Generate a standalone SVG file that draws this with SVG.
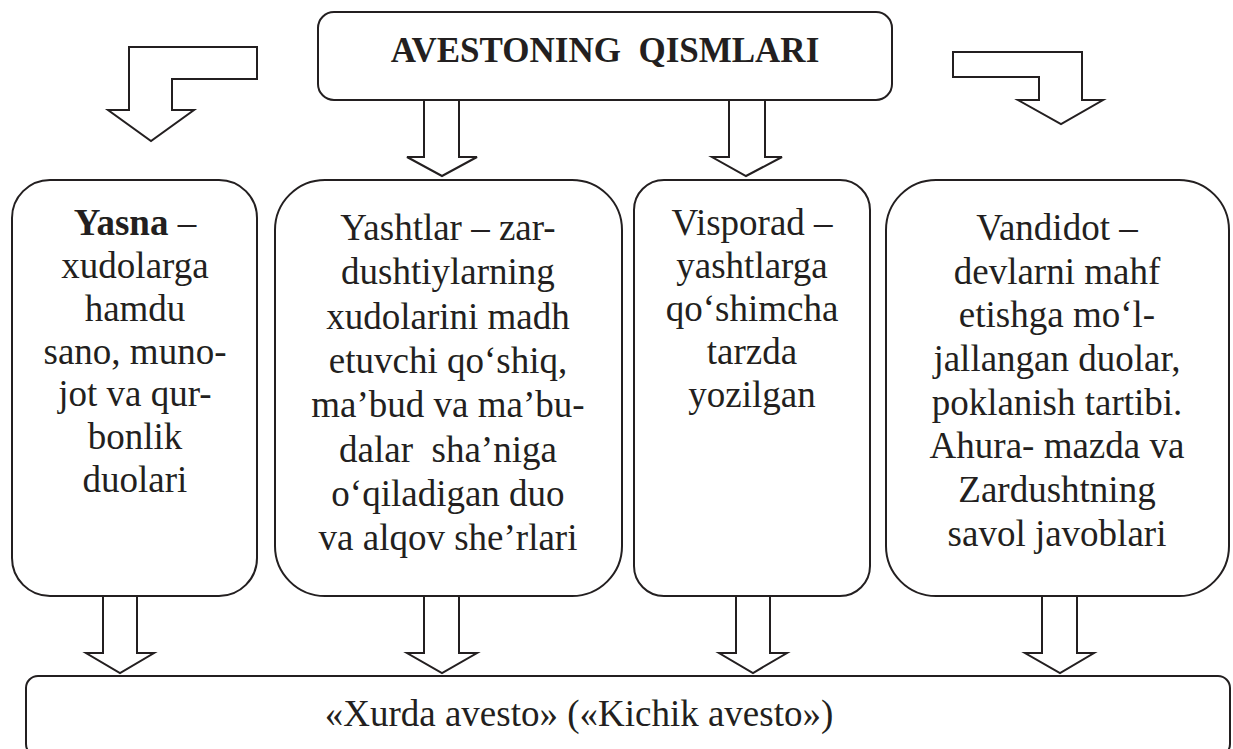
<svg xmlns="http://www.w3.org/2000/svg" width="1233" height="749" viewBox="0 0 1233 749">
<style>
.box{fill:#fff;stroke:#231f20;stroke-width:2}
.arr{fill:#fff;stroke:#231f20;stroke-width:2;stroke-linejoin:miter}
.t{font-family:"Liberation Serif","Times New Roman",serif;font-size:37px;fill:#231f20;text-anchor:middle}
.title{font-family:"Liberation Serif","Times New Roman",serif;font-size:35px;font-weight:bold;fill:#231f20;text-anchor:middle}
</style>
<rect width="1233" height="749" fill="#fff"/>
<g id="connectors">
<path class="arr" d="M257,47 L129,47 L129,110 L108,110 L151,141 L194,110 L172,110 L172,79 L257,79 Z"/>
<path class="arr" d="M424,100 L424,157 L407,157 L442,176 L477,157 L459,157 L459,100"/>
<path class="arr" d="M729,100 L729,157 L712,157 L746,176 L782,157 L765,157 L765,100"/>
<path class="arr" d="M953,52 L1082,52 L1082,100 L1103,100 L1061,124 L1018,100 L1039,100 L1039,77 L953,77 Z"/>
<path class="arr" d="M103,596 L103,653 L86,653 L120,673 L154,653 L137,653 L137,596"/>
<path class="arr" d="M424,596 L424,653 L407,653 L442,673 L477,653 L459,653 L459,596"/>
<path class="arr" d="M736,596 L736,653 L719,653 L753,673 L787,653 L770,653 L770,596"/>
<path class="arr" d="M1042,596 L1042,653 L1025,653 L1060,673 L1094,653 L1077,653 L1077,596"/>
</g>
<g id="title">
<rect class="box" x="318" y="12" width="574" height="88" rx="16"/>
<text class="title" x="605" y="62" xml:space="preserve">AVESTONING  QISMLARI</text>
</g>
<g id="yasna">
<rect class="box" x="12" y="180" width="245" height="416" rx="38"/>
<text class="t" x="135" y="235"><tspan font-weight="bold">Yasna</tspan> –</text>
<text class="t" x="135" y="278">xudolarga</text>
<text class="t" x="135" y="321">hamdu</text>
<text class="t" x="135" y="364">sano, muno-</text>
<text class="t" x="135" y="406">jot va qur-</text>
<text class="t" x="135" y="449">bonlik</text>
<text class="t" x="135" y="492">duolari</text>
</g>
<g id="yashtlar">
<rect class="box" x="275" y="180" width="347" height="416" rx="50"/>
<text class="t" x="448" y="240">Yashtlar – zar-</text>
<text class="t" x="448" y="284">dushtiylarning</text>
<text class="t" x="448" y="329">xudolarini madh</text>
<text class="t" x="448" y="373">etuvchi qo‘shiq,</text>
<text class="t" x="448" y="417">ma’bud va ma’bu-</text>
<text class="t" x="448" y="462" xml:space="preserve">dalar  sha’niga</text>
<text class="t" x="448" y="506">o‘qiladigan duo</text>
<text class="t" x="448" y="550">va alqov she’rlari</text>
</g>
<g id="visporad">
<rect class="box" x="634" y="180" width="236" height="416" rx="30"/>
<text class="t" x="752" y="235">Visporad –</text>
<text class="t" x="752" y="278">yashtlarga</text>
<text class="t" x="752" y="321">qo‘shimcha</text>
<text class="t" x="752" y="364">tarzda</text>
<text class="t" x="752" y="407">yozilgan</text>
</g>
<g id="vandidot">
<rect class="box" x="886" y="180" width="343" height="416" rx="50"/>
<text class="t" x="1057" y="240">Vandidot –</text>
<text class="t" x="1057" y="284">devlarni mahf</text>
<text class="t" x="1057" y="327">etishga mo‘l-</text>
<text class="t" x="1057" y="371">jallangan duolar,</text>
<text class="t" x="1057" y="415">poklanish tartibi.</text>
<text class="t" x="1057" y="458">Ahura- mazda va</text>
<text class="t" x="1057" y="502">Zardushtning</text>
<text class="t" x="1057" y="546">savol javoblari</text>
</g>
<g id="xurda">
<rect class="box" x="26" y="676" width="1204" height="80" rx="12"/>
<text class="t" x="579" y="726">«Xurda avesto» («Kichik avesto»)</text>
</g>
</svg>
